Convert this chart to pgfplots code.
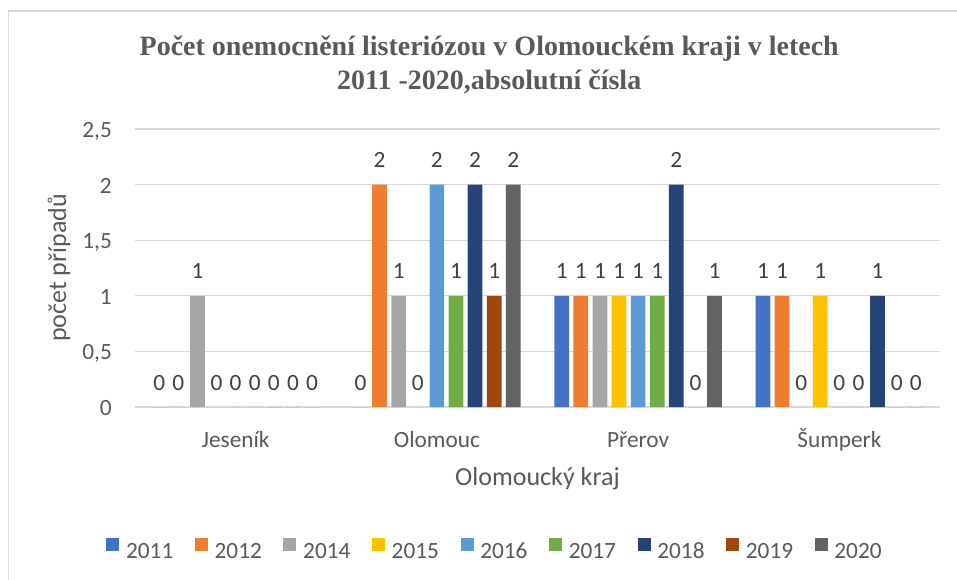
\documentclass[border=0pt]{standalone}
\usepackage{fontspec}
\setmainfont{Carlito}
\newfontfamily\titlefont{Liberation Serif}
\usepackage{pgfplots}
\usepackage{pgfplotstable}
\pgfplotsset{compat=1.18}
\definecolor{c2011}{HTML}{4472C4}
\definecolor{c2012}{HTML}{ED7D31}
\definecolor{c2014}{HTML}{A5A5A5}
\definecolor{c2015}{HTML}{FFC000}
\definecolor{c2016}{HTML}{5B9BD5}
\definecolor{c2017}{HTML}{70AD47}
\definecolor{c2018}{HTML}{264478}
\definecolor{c2019}{HTML}{9E480E}
\definecolor{c2020}{HTML}{636363}
\definecolor{txt}{HTML}{595959}
\definecolor{lbl}{HTML}{404040}
\definecolor{gridc}{HTML}{D9D9D9}

\pgfplotstableread{
x y2011 y2012 y2014 y2015 y2016 y2017 y2018 y2019 y2020
0 0 0 1 0 0 0 0 0 0
1 0 2 1 0 2 1 2 1 2
2 1 1 1 1 1 1 2 0 1
3 1 1 0 1 0 0 1 0 0
}\data

\pgfplotsset{
  mybar/.style={ybar, bar width=14.7bp, draw=none, bar shift=#1,
    every node near coord/.append style={xshift=#1},
    /pgfplots/legend image code/.code={\fill[##1] (0bp,0bp) rectangle (13bp,13bp);}},
}

\begin{document}
\begin{tikzpicture}[x=1bp,y=1bp]
\path[use as bounding box] (0,0) rectangle (957,-580);
\draw[gridc, line width=1.3bp] (8.5,-580) -- (8.5,-11) -- (957,-11);
\begin{axis}[
  at={(135bp,-407bp)}, anchor=south west,
  width=805bp, height=278bp, scale only axis,
  xmin=-0.5, xmax=3.5, ymin=0, ymax=2.5,
  clip=false,
  /pgf/number format/assume math mode=true,
  /pgf/number format/use comma,
  ytick={0,0.5,1,1.5,2,2.5},
  xtick={0,1,2,3},
  xticklabels={Jeseník,Olomouc,Přerov,Šumperk},
  axis line style={draw=none},
  major tick length=0pt,
  ymajorgrids,
  grid style={gridc, line width=1.3bp},
  tick label style={font=\fontsize{23.3bp}{28bp}\selectfont, text=txt},
  yticklabel style={anchor=base east, inner sep=0pt, xshift=-23bp, yshift=-8.5bp},
  xticklabel style={anchor=base, inner sep=0pt, yshift=-40bp},
  nodes near coords,
  nodes near coords style={font=\fontsize{23.3bp}{28bp}\selectfont, text=lbl, anchor=base, inner sep=0pt, yshift=17bp},
  title={Počet onemocnění listeriózou v Olomouckém kraji v letech\\2011 -2020,absolutní čísla},
  title style={at={(axis description cs:0.44,1.313)}, anchor=north, align=center, inner sep=0pt,
    font=\titlefont\bfseries\fontsize{28bp}{34bp}\selectfont, text=txt},
  xlabel={Olomoucký kraj},
  xlabel style={at={(axis description cs:0.5,-0.2806)}, anchor=base, inner sep=0pt,
    font=\fontsize{26bp}{30bp}\selectfont, text=txt},
  ylabel={počet případů},
  ylabel style={at={(axis description cs:-0.0857,0.5)}, anchor=base, inner sep=0pt, rotate=0,
    font=\fontsize{26bp}{30bp}\selectfont, text=txt},
  legend columns=9,
  legend style={at={(axis description cs:0.446,-0.512)}, anchor=center, draw=none, fill=none,
    inner sep=0pt, font=\fontsize{23.3bp}{28bp}\selectfont, text=txt,
    nodes={inner sep=0pt},
    /tikz/column sep=6.7bp,
    /tikz/every even column/.append style={column sep=21.6bp}},
]
\addplot[mybar=-76.4bp, fill=c2011] table[x=x, y=y2011] {\data};
\addplot[mybar=-57.3bp, fill=c2012] table[x=x, y=y2012] {\data};
\addplot[mybar=-38.2bp, fill=c2014] table[x=x, y=y2014] {\data};
\addplot[mybar=-19.1bp, fill=c2015] table[x=x, y=y2015] {\data};
\addplot[mybar=0bp, fill=c2016] table[x=x, y=y2016] {\data};
\addplot[mybar=19.1bp, fill=c2017] table[x=x, y=y2017] {\data};
\addplot[mybar=38.2bp, fill=c2018] table[x=x, y=y2018] {\data};
\addplot[mybar=57.3bp, fill=c2019] table[x=x, y=y2019] {\data};
\addplot[mybar=76.4bp, fill=c2020] table[x=x, y=y2020] {\data};
\legend{2011,2012,2014,2015,2016,2017,2018,2019,2020}
\end{axis}
\end{tikzpicture}
\end{document}
